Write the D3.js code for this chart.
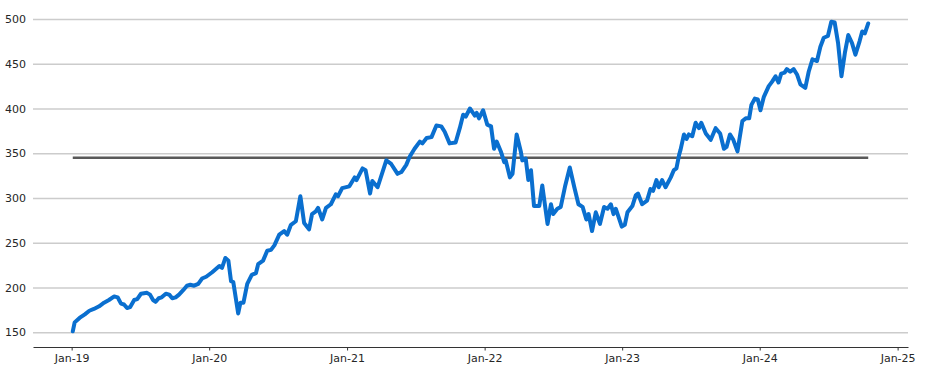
<!DOCTYPE html>
<html>
<head>
<meta charset="utf-8">
<script src="https://cdn.jsdelivr.net/npm/d3@7"></script>
<style>
  html, body { margin: 0; padding: 0; background: #fff; }
  svg { display: block; }
  text { font-family: "DejaVu Sans", sans-serif; fill: #262626; }
</style>
</head>
<body>
<div id="chart"></div>
<script>
// values (roughly weekly / at turning points)
var dates = [
  "2019-01-04","2019-01-09","2019-01-22","2019-02-05","2019-02-17","2019-03-01","2019-03-15","2019-03-28",
  "2019-04-10","2019-04-24","2019-05-03","2019-05-12","2019-05-20","2019-05-28","2019-06-05","2019-06-16",
  "2019-06-24","2019-07-04","2019-07-20","2019-07-28","2019-08-05","2019-08-12","2019-08-20","2019-08-28",
  "2019-09-08","2019-09-17","2019-09-25","2019-10-04","2019-10-13","2019-10-24","2019-11-03","2019-11-12",
  "2019-11-22","2019-12-03","2019-12-13","2019-12-24",
  "2020-01-09","2020-01-28","2020-02-04","2020-02-13","2020-02-21","2020-02-28","2020-03-05","2020-03-18",
  "2020-03-24","2020-04-01","2020-04-11","2020-04-23","2020-05-04","2020-05-10","2020-05-23","2020-06-03",
  "2020-06-13","2020-06-22","2020-07-05","2020-07-18","2020-07-26","2020-08-05","2020-08-18","2020-08-30",
  "2020-09-09","2020-09-22","2020-09-30","2020-10-10","2020-10-16","2020-10-27","2020-11-06","2020-11-19",
  "2020-12-02","2020-12-08","2020-12-19",
  "2021-01-07","2021-01-21","2021-01-26","2021-02-11","2021-02-19","2021-03-03","2021-03-09","2021-03-23",
  "2021-04-15","2021-04-28","2021-05-15","2021-05-25","2021-06-07","2021-06-16","2021-06-29","2021-07-13",
  "2021-07-20","2021-07-31","2021-08-13","2021-08-26","2021-09-08","2021-09-17","2021-09-30","2021-10-16",
  "2021-10-27","2021-11-05","2021-11-12","2021-11-23","2021-12-06","2021-12-11","2021-12-17","2021-12-28",
  "2022-01-08","2022-01-18","2022-01-26","2022-02-02","2022-02-13","2022-02-22","2022-02-26","2022-03-09",
  "2022-03-16","2022-03-27","2022-04-07","2022-04-11","2022-04-20","2022-04-27","2022-05-04","2022-05-12",
  "2022-05-26","2022-06-03","2022-06-17","2022-06-26","2022-07-02","2022-07-13","2022-07-22","2022-08-03",
  "2022-08-15","2022-08-27","2022-09-07","2022-09-18","2022-09-28","2022-10-04","2022-10-13","2022-10-23",
  "2022-11-03","2022-11-14","2022-11-23","2022-12-02","2022-12-09","2022-12-15","2022-12-31",
  "2023-01-08","2023-01-15","2023-01-28","2023-02-06","2023-02-12","2023-02-23","2023-03-08","2023-03-17",
  "2023-03-24","2023-04-02","2023-04-08","2023-04-17","2023-04-26","2023-05-10","2023-05-18","2023-05-25",
  "2023-06-01","2023-06-05","2023-06-14","2023-06-21","2023-06-27","2023-07-06","2023-07-15","2023-07-24",
  "2023-07-30","2023-08-11","2023-08-24","2023-09-06","2023-09-18","2023-09-28","2023-10-05","2023-10-14",
  "2023-10-23","2023-11-03","2023-11-16","2023-11-25","2023-12-04","2023-12-10","2023-12-19","2023-12-27",
  "2024-01-03","2024-01-12","2024-01-25","2024-02-03","2024-02-12","2024-02-20","2024-02-27","2024-03-07",
  "2024-03-13","2024-03-22","2024-03-31","2024-04-09","2024-04-18","2024-05-01","2024-05-10","2024-05-20",
  "2024-06-01","2024-06-10","2024-06-19","2024-06-30","2024-07-09","2024-07-18","2024-07-27","2024-08-05",
  "2024-08-14","2024-08-23","2024-09-02","2024-09-11","2024-09-22","2024-09-29","2024-10-06","2024-10-15"
];
var values = [
  151,161,166,170,174,176,179,183,
  186,190,189,182,181,177,178,186,
  187,193,194,192,186,184,188,189,
  193,192,188,189,192,197,202,203,
  202,204,210,212,
  217,224,222,233,230,207,206,171,
  183,183,204,214,216,226,230,241,
  242,247,259,263,259,270,274,302,
  272,265,282,285,289,276,289,293,
  304,302,311,
  313,323,320,333,331,305,319,312,
  342,338,327,329,337,346,355,363,
  361,367,368,381,380,374,361,362,
  378,393,391,400,392,395,389,398,
  382,380,355,363,352,340,342,323,
  327,371,352,342,344,320,331,291,
  291,314,271,293,282,288,290,314,
  334,312,293,290,276,282,263,284,
  271,290,288,293,282,288,268,
  270,284,291,303,305,293,297,310,
  308,320,312,320,312,323,331,333,
  348,354,371,366,371,369,384,378,
  384,372,365,378,372,355,357,371,
  365,352,386,389,389,404,411,410,
  398,413,425,430,436,429,439,440,
  444,441,444,438,427,423,441,455,
  453,469,479,481,497,496,473,436,
  462,482,473,460,475,486,484,495
];
var refLevel = 345;
var yTicks = [150, 200, 250, 300, 350, 400, 450, 500];
var xTickYears = [2019, 2020, 2021, 2022, 2023, 2024, 2025];

var width = 925, height = 370;
var plotLeft = 33, plotRight = 908, plotTop = 6, plotBottom = 347;

var parse = d3.timeParse("%Y-%m-%d");
var data = dates.map(function(d, i) { return { date: parse(d), value: values[i] }; });

// matplotlib-like 5% padding around data
var ext = d3.extent(data, function(d) { return d.date; });
var pad = (ext[1] - ext[0]) * 0.05;
var x = d3.scaleTime()
  .domain([new Date(+ext[0] - pad), new Date(+ext[1] + pad)])
  .range([plotLeft, plotRight]);
var y = d3.scaleLinear()
  .domain([133.5, 514.5])
  .range([plotBottom, plotTop]);

var svg = d3.select("#chart").append("svg")
  .attr("width", width)
  .attr("height", height);

// grid + y labels
var yAxis = svg.append("g")
  .attr("transform", "translate(" + plotLeft + ",0)")
  .call(d3.axisLeft(y).tickValues(yTicks).tickSize(-(plotRight - plotLeft)).tickPadding(7));
yAxis.select(".domain").remove();
yAxis.selectAll(".tick line").attr("stroke", "#cccccc").attr("stroke-width", 1.3);
yAxis.selectAll(".tick text").style("font-size", "11px").attr("fill", "#262626");

// x axis
var xAxis = svg.append("g")
  .attr("transform", "translate(0," + plotBottom + ")")
  .call(d3.axisBottom(x)
    .tickValues(xTickYears.map(function(yr) { return new Date(yr, 0, 1); }))
    .tickFormat(d3.timeFormat("%b-%y"))
    .tickSize(3.5).tickPadding(4).tickSizeOuter(0));
xAxis.select(".domain").attr("stroke", "#333").attr("stroke-width", 1);
xAxis.selectAll(".tick line").attr("stroke", "#333");
xAxis.selectAll(".tick text").style("font-size", "11px").attr("fill", "#262626");

// reference level
svg.append("line")
  .attr("x1", x(ext[0])).attr("x2", x(ext[1]))
  .attr("y1", y(refLevel)).attr("y2", y(refLevel))
  .attr("stroke", "#595959")
  .attr("stroke-width", 2.6);

var line = d3.line()
  .x(function(d) { return x(d.date); })
  .y(function(d) { return y(d.value); });

svg.append("path")
  .datum(data)
  .attr("fill", "none")
  .attr("stroke", "#0a6fcf")
  .attr("stroke-width", 4)
  .attr("stroke-linejoin", "round")
  .attr("stroke-linecap", "round")
  .attr("d", line);
</script>
</body>
</html>
